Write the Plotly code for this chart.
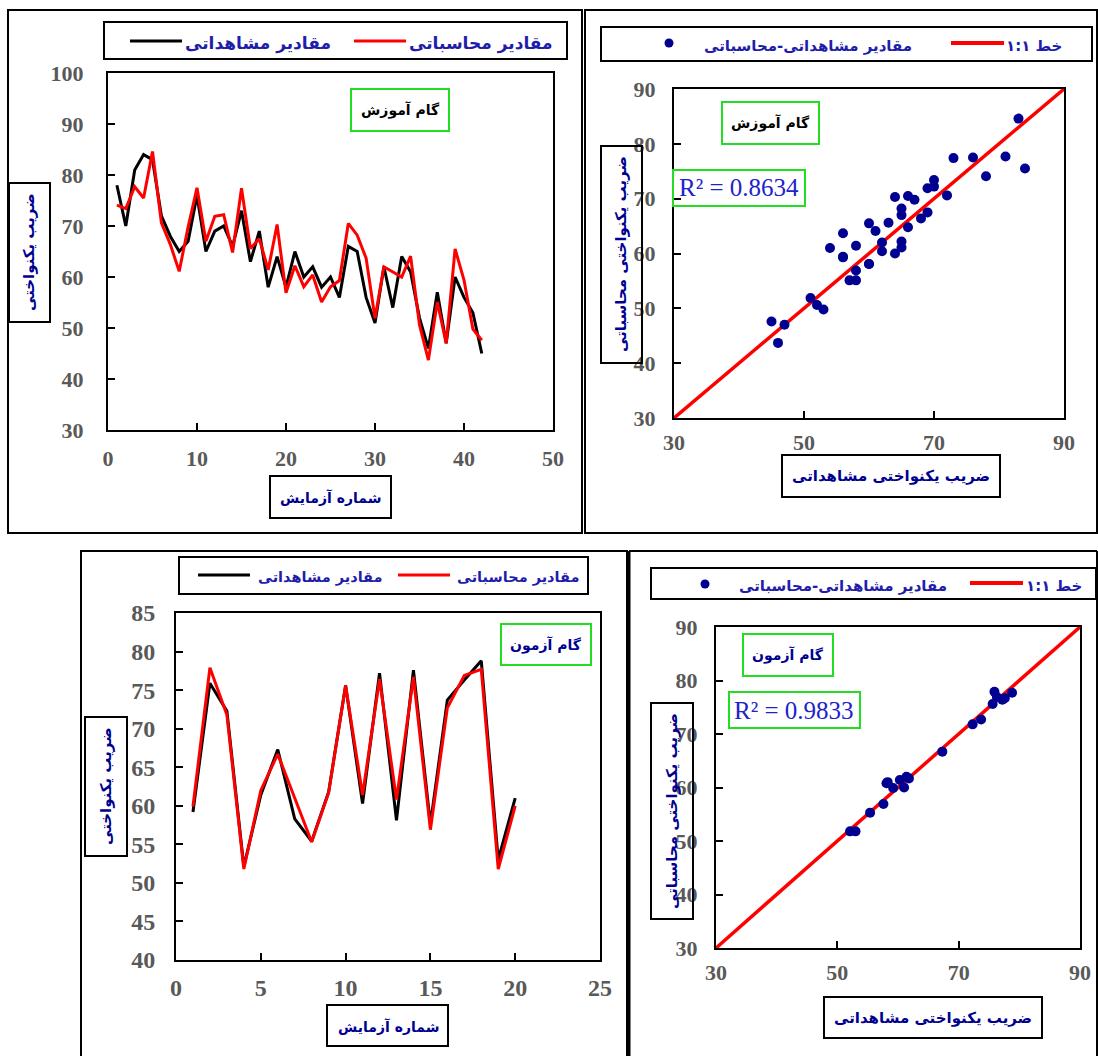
import plotly.graph_objects as go

# ---------------- data ----------------
train_trial = list(range(1, 43))
train_obs = [78, 70, 81, 84, 83, 72, 68, 65, 67, 76, 65, 69, 70, 66, 73, 63, 69, 58, 64, 58,
             65, 60, 62, 58, 60, 56, 66, 65, 56, 51, 62, 54, 64, 61, 52, 46, 57, 47, 60, 56,
             53, 45]
train_calc = [74.1, 73.4, 77.7, 75.5, 84.6, 70.6, 66.4, 61.1, 69.8, 77.5, 67.0, 71.9, 72.2, 64.8,
              77.4, 65.6, 67.5, 61.4, 70.3, 56.9, 62.2, 58.1, 60.4, 55.1, 58.1, 59.3, 70.5, 68.2,
              63.7, 51.9, 62.0, 61.0, 60.0, 64.1, 50.6, 43.7, 55.1, 47.0, 65.5, 59.4, 49.8, 47.6]

test_trial = list(range(1, 21))
test_obs = [59.2, 75.9, 72.3, 52.1, 61.4, 67.3, 58.3, 55.4, 61.8, 75.6, 60.3, 77.2, 58.1, 77.6,
            57.6, 73.7, 76.3, 78.8, 53.0, 61.0]
test_calc = [59.9, 77.9, 71.8, 51.8, 62.0, 66.7, 61.0, 55.3, 61.7, 75.6, 61.4, 76.4, 60.8, 76.7,
             56.9, 72.7, 76.9, 77.7, 51.8, 60.0]

one_to_one = [30, 90]
r2_train = "R² = 0.8634"
r2_test = "R² = 0.9833"

lbl_obs = "مقادیر مشاهداتی"
lbl_calc = "مقادیر محاسباتی"
lbl_scatter = "مقادیر مشاهداتی-محاسباتی"
lbl_line = "خط ۱:۱"
lbl_train = "گام آموزش"
lbl_test = "گام آزمون"
ttl_y_line = "ضریب یکنواختی"
ttl_x_line = "شماره آزمایش"
ttl_y_sc = "ضریب یکنواختی محاسباتی"
ttl_x_sc = "ضریب یکنواختی مشاهداتی"

# ---------------- layout helpers ----------------
W, H = 1098, 1056
def fx(p): return p / W
def fy(p): return 1 - p / H

FA = "DejaVu Sans"
SERIF = "Liberation Serif"
BLUE = "#1E1EAA"
NAVY = "#000090"
GREEN = "#22DD22"
TICKGRAY = "#595959"

fig = go.Figure()

fig.add_trace(go.Scatter(x=train_trial, y=train_obs, mode="lines", line=dict(color="black", width=3),
                         xaxis="x", yaxis="y", showlegend=False))
fig.add_trace(go.Scatter(x=train_trial, y=train_calc, mode="lines", line=dict(color="#FF0000", width=3),
                         xaxis="x", yaxis="y", showlegend=False))

fig.add_trace(go.Scatter(x=one_to_one, y=one_to_one, mode="lines", line=dict(color="#FF0000", width=3.5),
                         xaxis="x2", yaxis="y2", showlegend=False))
fig.add_trace(go.Scatter(x=train_obs, y=train_calc, mode="markers", marker=dict(color=NAVY, size=10),
                         xaxis="x2", yaxis="y2", showlegend=False))

fig.add_trace(go.Scatter(x=test_trial, y=test_obs, mode="lines", line=dict(color="black", width=3),
                         xaxis="x3", yaxis="y3", showlegend=False))
fig.add_trace(go.Scatter(x=test_trial, y=test_calc, mode="lines", line=dict(color="#FF0000", width=3),
                         xaxis="x3", yaxis="y3", showlegend=False))

fig.add_trace(go.Scatter(x=one_to_one, y=one_to_one, mode="lines", line=dict(color="#FF0000", width=3.5),
                         xaxis="x4", yaxis="y4", showlegend=False))
fig.add_trace(go.Scatter(x=test_obs, y=test_calc, mode="markers", marker=dict(color=NAVY, size=10),
                         xaxis="x4", yaxis="y4", showlegend=False))

def ax(domain, rng, dtick=None, tickvals=None, anchor=None, size=21, standoff=10):
    d = dict(domain=domain, range=rng, showline=True, linecolor="black", linewidth=2, mirror=True,
             ticks="inside", ticklen=7, tickwidth=2, tickcolor="black", showgrid=False, zeroline=False,
             tickfont=dict(family=SERIF, size=size, color=TICKGRAY, weight="bold"),
             anchor=anchor, ticklabelstandoff=standoff, automargin=False)
    if dtick is not None:
        d["dtick"] = dtick
        d["tick0"] = rng[0]
    if tickvals is not None:
        d["tickvals"] = tickvals
    return d

# panel pixel rectangles for plot areas
P1 = (108, 553, 73, 430)
P2 = (674, 1064, 89, 418)
P3 = (176, 600, 613, 960)
P4 = (716, 1080, 627, 948)

def dx(p): return [fx(p[0]), fx(p[1])]
def dy(p): return [fy(p[3]), fy(p[2])]

fig.update_layout(
    xaxis=ax(dx(P1), [0, 50], dtick=10, anchor="y", size=22, standoff=8),
    yaxis=ax(dy(P1), [30, 100], dtick=10, anchor="x", size=22, standoff=18),
    xaxis2=ax(dx(P2), [30, 90], tickvals=[30, 50, 70, 90], anchor="y2", size=22, standoff=4),
    yaxis2=ax(dy(P2), [30, 90], dtick=10, anchor="x2", size=22, standoff=12),
    xaxis3=ax(dx(P3), [0, 25], dtick=5, anchor="y3", size=24, standoff=5),
    yaxis3=ax(dy(P3), [40, 85], dtick=5, anchor="x3", size=24, standoff=14),
    xaxis4=ax(dx(P4), [30, 90], tickvals=[30, 50, 70, 90], anchor="y4", size=22, standoff=4),
    yaxis4=ax(dy(P4), [30, 90], dtick=10, anchor="x4", size=22, standoff=12),
)

shapes = []
annotations = []

def rect(x0, x1, y0, y1, color="black", width=2):
    shapes.append(dict(type="rect", xref="paper", yref="paper", x0=fx(x0), x1=fx(x1), y0=fy(y1), y1=fy(y0),
                       line=dict(color=color, width=width), fillcolor="rgba(0,0,0,0)", layer="above"))

def hline(x0, x1, y, color, width):
    shapes.append(dict(type="line", xref="paper", yref="paper", x0=fx(x0), x1=fx(x1), y0=fy(y), y1=fy(y),
                       line=dict(color=color, width=width), layer="above"))

def dot(x, y, r, color):
    shapes.append(dict(type="circle", xref="paper", yref="paper", x0=fx(x - r), x1=fx(x + r),
                       y0=fy(y + r), y1=fy(y - r), line=dict(color=color, width=0), fillcolor=color,
                       layer="above"))

def text(s, x, y, size, color, family=FA, bold=True, angle=0, xanchor="center"):
    annotations.append(dict(text=s, xref="paper", yref="paper", x=fx(x), y=fy(y), showarrow=False,
                            xanchor=xanchor, yanchor="middle", textangle=angle,
                            font=dict(family=family, size=size, color=color,
                                      weight="bold" if bold else "normal")))

# outer frames
rect(8, 582, 10, 533)
rect(585, 1097, 10, 533)
rect(81, 627, 551, 1060)
shapes.append(dict(type="line", xref="paper", yref="paper", x0=fx(629), x1=fx(629), y0=fy(551), y1=fy(1060),
                   line=dict(color="black", width=3), layer="above"))
shapes.append(dict(type="line", xref="paper", yref="paper", x0=fx(629), x1=fx(1097), y0=fy(551), y1=fy(551),
                   line=dict(color="black", width=2), layer="above"))
shapes.append(dict(type="line", xref="paper", yref="paper", x0=fx(1097), x1=fx(1097), y0=fy(551), y1=fy(1060),
                   line=dict(color="black", width=2), layer="above"))

# ---- panel 1 ----
rect(104, 567, 22, 59)
hline(130, 182, 41, "black", 3)
text(lbl_obs, 258, 44, 17, BLUE)
hline(354, 406, 41, "#FF0000", 3)
text(lbl_calc, 481, 44, 17, BLUE)
rect(351, 449, 89, 131, GREEN)
text(lbl_train, 400, 110, 14, "black")
rect(9, 50, 183, 322)
text(ttl_y_line, 29, 252, 15, NAVY, angle=-90)
rect(270, 391, 476, 518)
text(ttl_x_line, 330, 497, 14, NAVY)

# ---- panel 2 ----
rect(601, 1092, 27, 61)
dot(669, 43, 4.5, NAVY)
text(lbl_scatter, 808, 46, 15, BLUE)
hline(951, 1004, 43, "#FF0000", 4)
text(lbl_line, 1034, 46, 15, BLUE)
rect(722, 819, 102, 144, GREEN)
text(lbl_train, 770, 123, 14, "black")
rect(673, 805, 170, 206, GREEN)
text(r2_train, 739, 188, 25, "#2222CC", family=SERIF, bold=False)
rect(601, 642, 146, 363)
text(ttl_y_sc, 621, 254, 15, NAVY, angle=-90)
rect(782, 1000, 455, 497)
text(ttl_x_sc, 891, 476, 15, NAVY)

# ---- panel 3 ----
rect(179, 588, 557, 594)
hline(198, 250, 575, "black", 3)
text(lbl_obs, 320, 577, 14.5, BLUE)
hline(398, 450, 575, "#FF0000", 3)
text(lbl_calc, 518, 577, 14.5, BLUE)
rect(501, 591, 624, 665, GREEN)
text(lbl_test, 546, 645, 14, NAVY)
rect(85, 127, 717, 856)
text(ttl_y_line, 106, 786, 15, NAVY, angle=-90)
rect(327, 448, 1005, 1046)
text(ttl_x_line, 388, 1026, 14, NAVY)

# ---- panel 4 ----
rect(651, 1096, 568, 599)
dot(705, 584, 4.5, NAVY)
text(lbl_scatter, 843, 586, 15, BLUE)
hline(970, 1023, 583, "#FF0000", 4)
text(lbl_line, 1054, 586, 15, BLUE)
rect(743, 833, 634, 676, GREEN)
text(lbl_test, 788, 655, 14, NAVY)
rect(729, 860, 692, 728, GREEN)
text(r2_test, 794, 710, 25, "#2222CC", family=SERIF, bold=False)
rect(651, 693, 703, 919)
text(ttl_y_sc, 672, 811, 15, NAVY, angle=-90)
rect(824, 1042, 997, 1038)
text(ttl_x_sc, 933, 1018, 15, NAVY)

fig.update_layout(
    width=W, height=H, margin=dict(l=0, r=0, t=0, b=0, autoexpand=False),
    paper_bgcolor="white", plot_bgcolor="white",
    shapes=shapes, annotations=annotations, showlegend=False,
)

fig.write_html("out.html", config={"displayModeBar": False},
               post_script="document.body.style.margin='0';document.body.style.overflow='hidden';")
